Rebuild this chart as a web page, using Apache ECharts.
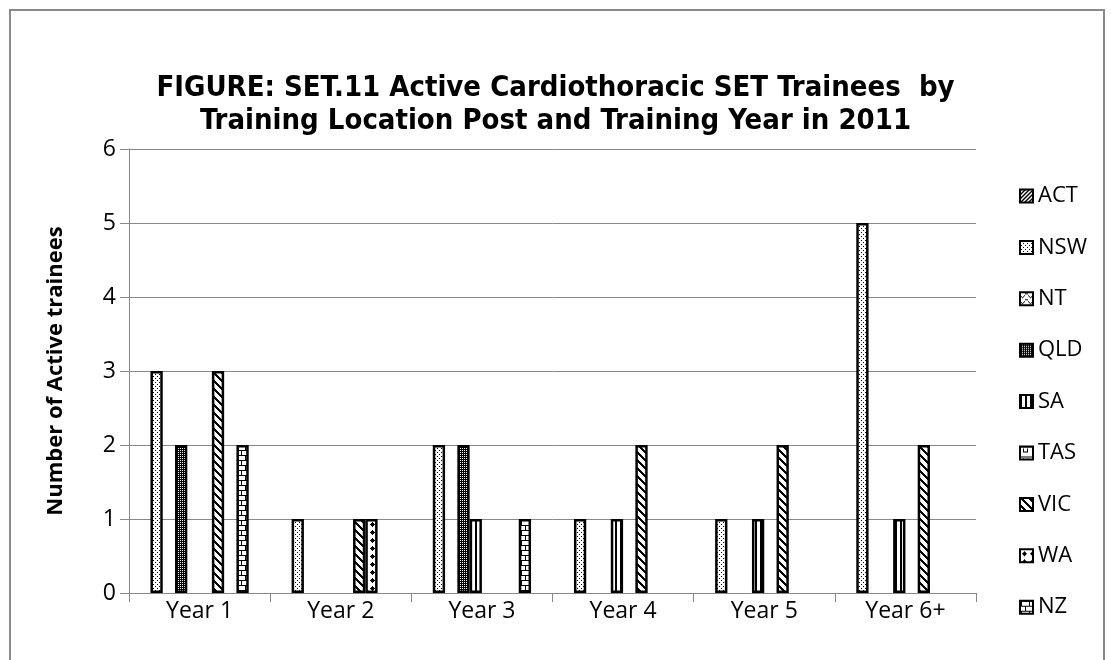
<!DOCTYPE html>
<html>
<head>
<meta charset="utf-8">
<script src="https://cdn.jsdelivr.net/npm/echarts@6/dist/echarts.min.js"></script>
<style>
html,body{margin:0;padding:0;background:#fff;}
#c{width:1111px;height:660px;}
</style>
</head>
<body>
<div id="c"></div>
<script>
// ---- data ----
const categories = ['Year 1', 'Year 2', 'Year 3', 'Year 4', 'Year 5', 'Year 6+'];
const seriesNames = ['ACT', 'NSW', 'NT', 'QLD', 'SA', 'TAS', 'VIC', 'WA', 'NZ'];
const ACT = [null, null, null, null, null, null];
const NSW = [3, 1, 2, 1, 1, 5];
const NT  = [null, null, null, null, null, null];
const QLD = [2, null, 2, null, null, null];
const SA  = [null, null, 1, 1, 1, 1];
const TAS = [null, null, null, null, null, null];
const VIC = [3, 1, null, 2, 2, 2];
const WA  = [null, 1, null, null, null, null];
const NZ  = [2, null, 1, null, null, null];
const EMPTY = [null, null, null, null, null, null]; // unused 10th slot in source chart
const yTicks = [0, 1, 2, 3, 4, 5, 6];

// ---- patterns ----
function pat(w, h, fn) {
  const c = document.createElement('canvas');
  c.width = w; c.height = h;
  const g = c.getContext('2d');
  g.fillStyle = '#fff'; g.fillRect(0, 0, w, h);
  g.fillStyle = '#000';
  for (let y = 0; y < h; y++) for (let x = 0; x < w; x++) if (fn(x, y)) g.fillRect(x, y, 1, 1);
  return { image: c, repeat: 'repeat' };
}
const patterns = {
  ACT: pat(4, 4, (x, y) => ((x + y) % 4) < 2),
  NSW: pat(4, 4, (x, y) => (x === 1 && y === 0) || (x === 3 && y === 2)),
  NT: pat(8, 6, (x, y) => y === Math.round(2.5 + 2 * Math.sin(x / 8 * 2 * Math.PI)) % 6),
  QLD: pat(2, 2, (x, y) => !(x === 0 && y === 0)),
  SA: pat(5, 1, (x, y) => x < 2),
  TAS: pat(10, 10, (x, y) => y === 0 || (y === 5 && x > 2 && x < 8) || ((x === 3 || x === 7) && y > 1 && y < 5)),
  VIC: pat(8, 8, (x, y) => ((x - y + 16) % 8) < 3),
  WA: pat(8, 8, (x, y) => Math.abs(x - 4) + Math.abs(y - 4) <= 2),
  NZ: pat(8, 10, (x, y) => (y === 0) || (y === 5) || (y < 5 && x === 1) || (y > 5 && x === 5))
};
const dataMap = { ACT, NSW, NT, QLD, SA, TAS, VIC, WA, NZ };

const series = seriesNames.map(n => ({
  name: n,
  type: 'bar',
  data: dataMap[n],
  barGap: '0%',
  barCategoryGap: '13%',
  itemStyle: { color: patterns[n], borderColor: '#000', borderWidth: 2.5 },
  emphasis: { disabled: true }
}));
series.push({
  name: 'blank', type: 'bar', data: EMPTY, barGap: '0%', barCategoryGap: '13%',
  itemStyle: { color: '#fff' }
});

const chart = echarts.init(document.getElementById('c'));
chart.setOption({
  animation: false,
  backgroundColor: '#fff',
  title: {
    text: 'FIGURE: SET.11 Active Cardiothoracic SET Trainees  by\nTraining Location Post and Training Year in 2011',
    left: 'center',
    top: 67,
    textStyle: {
      fontFamily: '"DejaVu Sans Condensed", "DejaVu Sans", sans-serif',
      fontWeight: 'bold',
      fontSize: 29,
      lineHeight: 33,
      color: '#000'
    }
  },
  legend: {
    orient: 'vertical',
    left: 1014,
    top: 179,
    data: seriesNames,
    icon: 'rect',
    itemWidth: 13,
    itemHeight: 13,
    itemGap: 27.4,
    selectedMode: false,
    textStyle: { fontFamily: '"Open Sans", sans-serif', fontSize: 22, color: '#000', lineHeight: 24 }
  },
  grid: { left: 129, right: 135, top: 149, bottom: 67, containLabel: false },
  xAxis: {
    type: 'category',
    data: categories,
    axisLine: { lineStyle: { color: '#888', width: 1 } },
    axisTick: { show: true, length: 9, lineStyle: { color: '#888' } },
    axisLabel: { fontFamily: '"Open Sans", sans-serif', fontSize: 23, color: '#000', margin: 7 }
  },
  yAxis: {
    type: 'value',
    min: yTicks[0],
    max: yTicks[yTicks.length - 1],
    interval: 1,
    name: 'Number of Active trainees',
    nameLocation: 'middle',
    nameRotate: 90,
    nameGap: 62,
    nameTextStyle: { fontFamily: '"Open Sans", sans-serif', fontWeight: 'bold', fontSize: 22, color: '#000' },
    axisLine: { show: true, lineStyle: { color: '#888', width: 1 } },
    axisTick: { show: true, length: 9, lineStyle: { color: '#888' } },
    splitLine: { lineStyle: { color: '#888', width: 1 } },
    axisLabel: { fontFamily: '"Open Sans", sans-serif', fontSize: 23, color: '#000', margin: 13 }
  },
  graphic: [{
    type: 'rect',
    shape: { x: 10, y: 10, width: 1094, height: 700 },
    style: { fill: 'none', stroke: '#8a8a8a', lineWidth: 2 },
    silent: true
  }],
  series: series
});
</script>
</body>
</html>
